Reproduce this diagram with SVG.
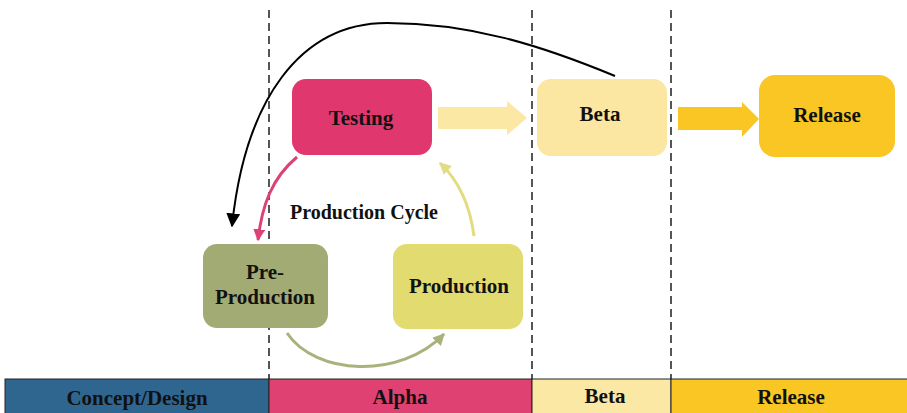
<svg xmlns="http://www.w3.org/2000/svg" width="907" height="413" viewBox="0 0 907 413">
<defs>
<style>
.lbl{font-family:"Liberation Serif","Times New Roman",serif;font-weight:bold;fill:#111;text-anchor:middle}
.node{font-size:21px}
.bar{font-size:21px}
.dash{stroke:#555;stroke-width:2;stroke-dasharray:8,5;fill:none}
.seg{stroke:#222;stroke-width:1}
</style>
<marker id="ahBlack" viewBox="0 0 10 10" refX="9" refY="5" markerWidth="7" markerHeight="7" orient="auto" markerUnits="strokeWidth"><path d="M0,0 L10,5 L0,10 z" fill="#000"/></marker>
<marker id="ahPink" viewBox="0 0 10 10" refX="9" refY="5" markerWidth="4" markerHeight="4" orient="auto" markerUnits="strokeWidth"><path d="M0,0 L10,5 L0,10 z" fill="#dc4277"/></marker>
<marker id="ahYellow" viewBox="0 0 10 10" refX="9" refY="5" markerWidth="4" markerHeight="4" orient="auto" markerUnits="strokeWidth"><path d="M0,0 L10,5 L0,10 z" fill="#e2dc80"/></marker>
<marker id="ahOlive" viewBox="0 0 10 10" refX="9" refY="5" markerWidth="4" markerHeight="4" orient="auto" markerUnits="strokeWidth"><path d="M0,0 L10,5 L0,10 z" fill="#a9b27d"/></marker>
</defs>
<rect width="907" height="413" fill="#fff"/>
<g id="dividers">
<line class="dash" x1="269" y1="10" x2="269" y2="379"/>
<line class="dash" x1="532" y1="10" x2="532" y2="379"/>
<line class="dash" x1="671" y1="10" x2="671" y2="379"/>
</g>
<g id="phase-bar">
<rect class="seg" x="5" y="379" width="264" height="36" fill="#2e6690"/>
<rect class="seg" x="269" y="379" width="263" height="36" fill="#de4172"/>
<rect class="seg" x="532" y="379" width="139" height="36" fill="#fbe8a5"/>
<rect class="seg" x="671" y="379" width="240" height="36" fill="#f9c623"/>
<text class="lbl bar" x="137" y="405">Concept/Design</text>
<text class="lbl bar" x="400" y="404">Alpha</text>
<text class="lbl bar" x="605" y="403">Beta</text>
<text class="lbl bar" x="791" y="404">Release</text>
</g>
<g id="connectors">
<path d="M615 76 C540 45,470 23,387 23 C300 23,245 100,232 226" fill="none" stroke="#000" stroke-width="2" marker-end="url(#ahBlack)"/>
<path d="M297 157 C272 178,262 205,258 240" fill="none" stroke="#dc4277" stroke-width="3" marker-end="url(#ahPink)"/>
<path d="M474 236 C470 205,458 180,440 163" fill="none" stroke="#e2dc80" stroke-width="3" marker-end="url(#ahYellow)"/>
<path d="M287 333 C315 375,400 380,444 334" fill="none" stroke="#a9b27d" stroke-width="3" marker-end="url(#ahOlive)"/>
<path d="M438 107 H507 V101 L527 118 L507 135 V129 H438 Z" fill="#fbe8a5"/>
<path d="M678 107 H742 V102 L759 119 L742 137 V130 H678 Z" fill="#f9c623"/>
</g>
<g id="testing">
<rect x="292" y="79" width="140" height="76" rx="14" fill="#e0386e"/>
<text class="lbl node" x="361" y="125">Testing</text>
</g>
<g id="beta">
<rect x="537" y="79" width="130" height="77" rx="14" fill="#fbe6a2"/>
<text class="lbl node" x="600" y="121">Beta</text>
</g>
<g id="release">
<rect x="759" y="75" width="136" height="82" rx="16" fill="#f9c623"/>
<text class="lbl node" x="827" y="122">Release</text>
</g>
<g id="pre-production">
<rect x="203" y="244" width="125" height="84" rx="14" fill="#a2ab74"/>
<text class="lbl node" x="265" y="279">Pre-</text>
<text class="lbl node" x="265" y="304">Production</text>
</g>
<g id="production">
<rect x="393" y="244" width="130" height="85" rx="14" fill="#e2dc70"/>
<text class="lbl node" x="459" y="293">Production</text>
</g>
<g id="cycle-label">
<text class="lbl" font-size="20" x="364" y="219">Production Cycle</text>
</g>
</svg>
